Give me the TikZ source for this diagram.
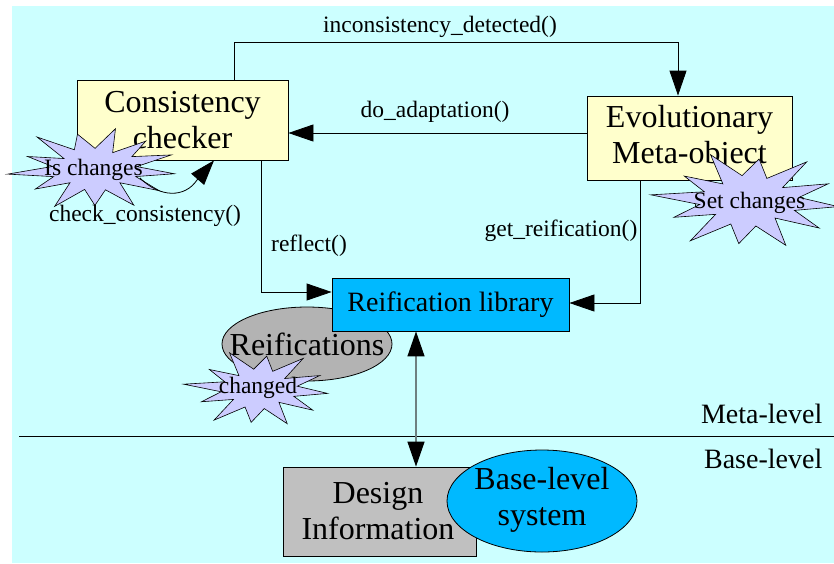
\documentclass[tikz,border=0pt]{standalone}
\usepackage{fontspec}
\setmainfont{Liberation Serif}
\usetikzlibrary{arrows.meta,shapes.geometric,calc}
\definecolor{bgc}{HTML}{CCFFFF}
\definecolor{ylw}{HTML}{FFFFCC}
\definecolor{blu}{HTML}{00B9FF}
\definecolor{gryA}{HTML}{B3B3B3}
\definecolor{gryB}{HTML}{C0C0C0}
\definecolor{lav}{HTML}{CCCCFF}
\definecolor{lgr}{HTML}{6E8080}
\newcommand\burstpoly[6]{% cx cy rx ry lastindex step
  \draw[burst] plot[samples at={0,...,#5}, variable=\k]
    ({#1+#3*(mod(\k,2)==0 ? 1+0.10*sin(\k*97) : 0.52+0.05*cos(\k*61))*cos(\k*#6+7)},
     {#2+#4*(mod(\k,2)==0 ? 1+0.10*sin(\k*97) : 0.52+0.05*cos(\k*61))*sin(\k*#6+7)}) -- cycle;}
\begin{document}
\begin{tikzpicture}[x=1pt,y=-1pt,line width=0.8pt,
  arr/.style={-{Triangle[length=25pt,width=17pt]}},
  box/.style={draw,rectangle,inner sep=0pt},
  big/.style={font=\fontsize{32}{36}\selectfont,align=center},
  mid/.style={font=\fontsize{28}{32}\selectfont},
  lbl/.style={font=\fontsize{23.5}{26}\selectfont,inner sep=0pt},
  burst/.style={draw,fill=lav,line width=0.6pt}]
\useasboundingbox (0,0) rectangle (834,563);
\clip (0,0) rectangle (834,563);
\fill[bgc] (12,6) rectangle (834,563);
\draw (19,436) -- (834,436);
\node[mid,anchor=east] (ml) at (826,414) {Meta-level};
\node[mid,anchor=east] (bl) at (826,459) {Base-level};

% main boxes
\node[box,fill=ylw,minimum width=211pt,minimum height=80pt,big] (cc) at (182.5,120) {Consistency\\checker};
\node[box,fill=ylw,minimum width=205pt,minimum height=84pt,big] (evo) at (689.5,138) {Evolutionary\\Meta-object};

% connectors between top boxes
\draw[arr] (cc.north -| 234,0) -- (234,42) -| (evo.north -| 678,0);
\node[lbl] (l1) at (440,27) {inconsistency\_detected()};
\draw[arr] (evo.west |- 0,133) -- (cc.east |- 0,133);
\node[lbl] (l2) at (435,112) {do\_adaptation()};

% reifications
\draw[fill=gryA] (307,344) ellipse [x radius=85, y radius=37];
\node[big] (reifs) at (307,344) {Reifications};
\node[box,fill=blu,minimum width=237pt,minimum height=53pt,mid] (rl) at (450.5,304.5) {Reification library};
\draw[arr] (cc.south -| 261,0) |- (rl.west |- 0,292);
\node[lbl] (l3) at (309,246) {reflect()};
\draw[arr] (evo.south -| 640,0) |- (rl.east |- 0,303);
\node[lbl] (l4) at (561,231) {get\_reification()};

% stars
\burstpoly{259}{389}{69}{36}{23}{15}
\node[lbl] (chg) at (258,388) {changed};
\burstpoly{95}{169}{80}{39}{25}{13.846}
\node[lbl] (isc) at (93.5,170) {Is changes};
\burstpoly{749}{201}{90}{46}{23}{15}
\node[lbl] (setc) at (749.5,203) {Set changes};

% check consistency curved arrow
\coordinate (cs) at (140,178);
\coordinate (ce) at (cc.south -| 214,0);
\draw[arr] (cs) .. controls (160,198) and (185,198) .. (197,180) -- (ce);
\node[lbl] (l5) at (145,216) {check\_consistency()};

% base level
\node[box,fill=gryB,minimum width=193.5pt,minimum height=89pt] (di) at (380,511.5) {};
\node[big] (dit) at (378,511) {Design\\Information};
\draw[fill=blu] (542,501) ellipse [x radius=95, y radius=51];
\node[big] (bls) at (542,500) {Base-level\\system};

\draw[draw=lgr,line width=1.3pt,{Triangle[length=25pt,width=17pt,color=black]}-{Triangle[length=25pt,width=17pt,color=black]}]
  (rl.south -| 416,0) -- (di.north -| 416,0);
\end{tikzpicture}
\end{document}
